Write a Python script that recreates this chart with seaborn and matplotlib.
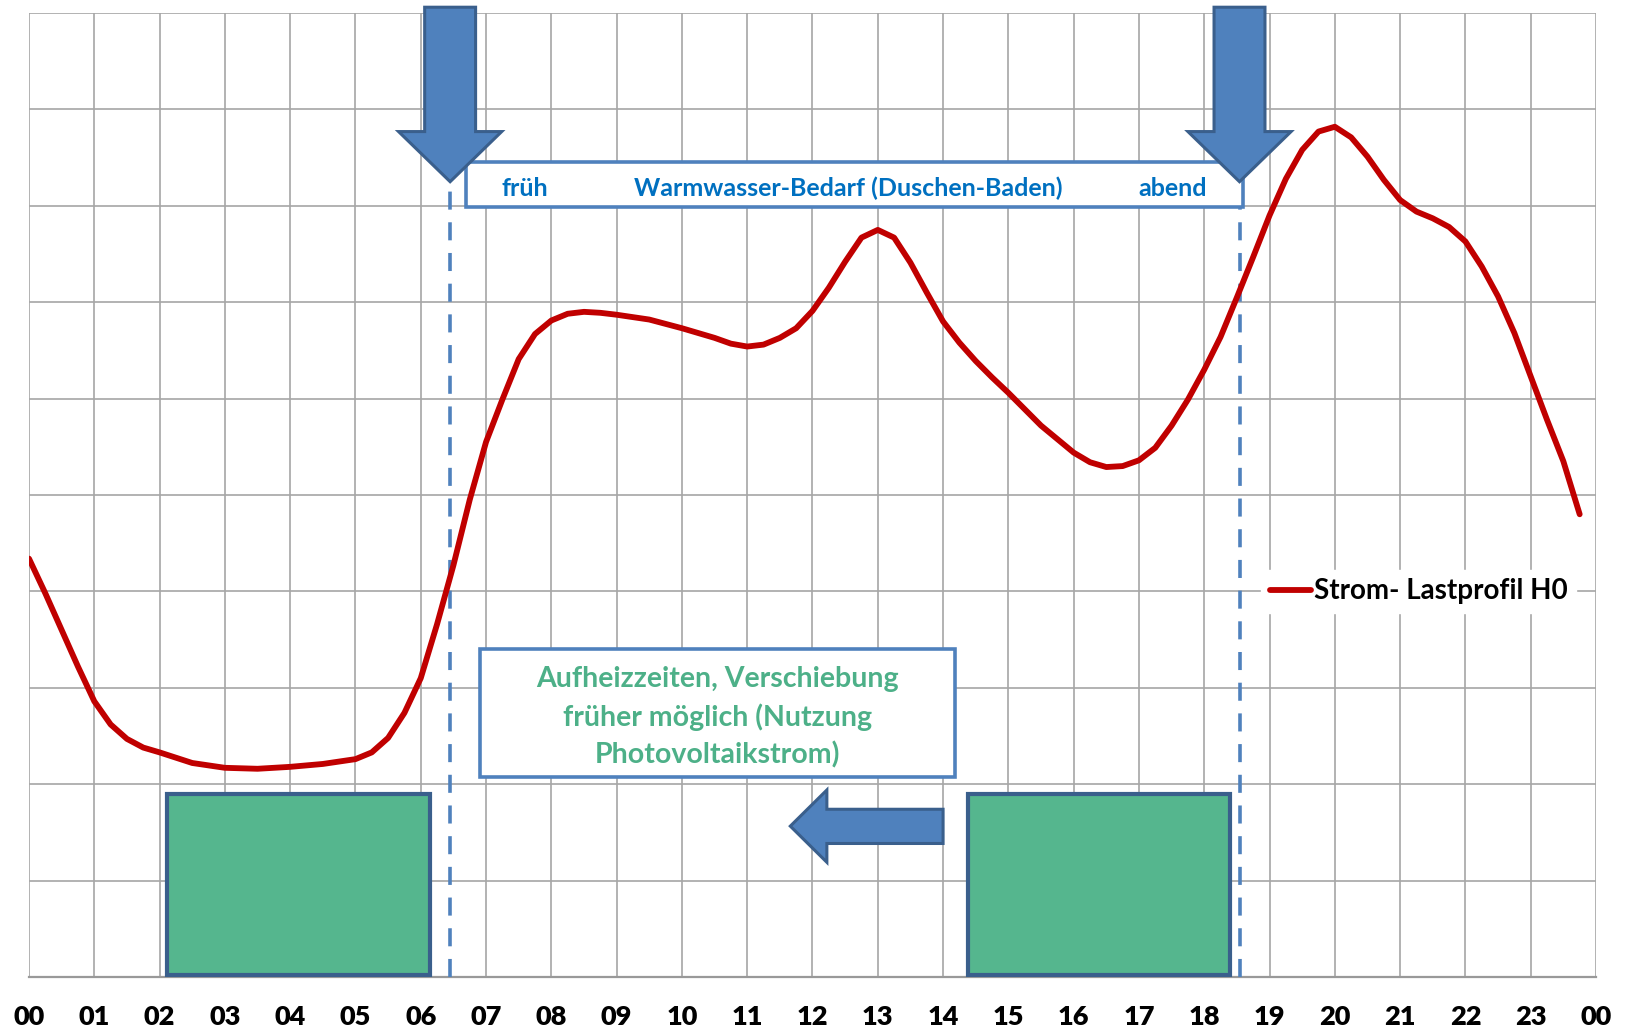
import numpy as np
import pandas as pd
import matplotlib
matplotlib.use("Agg")
import matplotlib.pyplot as plt
from matplotlib.patches import Rectangle, Polygon
import seaborn as sns

# Household load profile H0 (relative load, one grid row = 1 unit)
hours = [0.0, 0.25, 0.5, 0.75, 1.0, 1.25, 1.5, 1.75, 2.0, 2.5, 3.0, 3.5, 4.0,
         4.5, 5.0, 5.25, 5.5, 5.75, 6.0, 6.25, 6.5, 6.75, 7.0, 7.25, 7.5, 7.75,
         8.0, 8.25, 8.5, 8.75, 9.0, 9.5, 10.0, 10.5, 10.75, 11.0, 11.25, 11.5,
         11.75, 12.0, 12.25, 12.5, 12.75, 13.0, 13.25, 13.5, 13.75, 14.0, 14.25,
         14.5, 14.75, 15.0, 15.5, 16.0, 16.25, 16.5, 16.75, 17.0, 17.25, 17.5,
         17.75, 18.0, 18.25, 18.5, 18.75, 19.0, 19.25, 19.5, 19.75, 20.0, 20.25,
         20.5, 20.75, 21.0, 21.25, 21.5, 21.75, 22.0, 22.25, 22.5, 22.75, 23.0,
         23.25, 23.5, 23.75]
load = [4.34, 3.98, 3.60, 3.22, 2.86, 2.62, 2.47, 2.38, 2.33, 2.22, 2.17, 2.16,
        2.18, 2.21, 2.26, 2.33, 2.48, 2.74, 3.10, 3.66, 4.27, 4.95, 5.55, 5.99,
        6.41, 6.67, 6.81, 6.88, 6.90, 6.89, 6.87, 6.82, 6.73, 6.63, 6.57, 6.54,
        6.56, 6.63, 6.73, 6.91, 7.15, 7.42, 7.67, 7.75, 7.67, 7.41, 7.10, 6.80,
        6.58, 6.39, 6.22, 6.06, 5.72, 5.44, 5.34, 5.29, 5.30, 5.36, 5.49, 5.72,
        5.99, 6.30, 6.64, 7.05, 7.47, 7.90, 8.28, 8.58, 8.77, 8.82, 8.71, 8.51,
        8.27, 8.06, 7.94, 7.87, 7.78, 7.63, 7.37, 7.06, 6.68, 6.23, 5.78, 5.35,
        4.80]
hour_labels = ["00", "01", "02", "03", "04", "05", "06", "07", "08", "09", "10",
               "11", "12", "13", "14", "15", "16", "17", "18", "19", "20", "21",
               "22", "23", "00"]
series_name = "Strom- Lastprofil H0"

# Hot-water demand peaks (morning / evening) and heating windows
demand_times = [6.45, 18.54]
heating_windows = [(2.11, 6.14), (14.38, 18.40)]
demand_box = (6.70, 18.59)          # hour span of the demand banner
shift_arrow = (14.0, 11.66)         # tail / tip hour of the shift arrow
info_lines = ["Aufheizzeiten, Verschiebung", "früher möglich (Nutzung",
              "Photovoltaikstrom)"]

BLUE = "#4F81BD"
BLUE_EDGE = "#3A5F8C"
GREEN = "#55B68E"
TEXT_BLUE = "#0070C0"
TEXT_GREEN = "#4DB088"
RED = "#C00000"
GRID = "#A6A6A6"

sns.set_style("white")
plt.rcParams["font.family"] = ["Lato", "DejaVu Sans"]

fig = plt.figure(figsize=(16.37, 10.33), dpi=100)
ax = fig.add_axes([29 / 1637, 1 - 977 / 1033, (1596 - 29) / 1637, (977 - 13) / 1033])

df = pd.DataFrame({"Stunde": hours, "Last": load})
sns.lineplot(data=df, x="Stunde", y="Last", color=RED, linewidth=4.2,
             label=series_name, ax=ax, zorder=5, solid_capstyle="round",
             solid_joinstyle="round")

ax.set_xlim(0, 24)
ax.set_ylim(0, 10)
ax.set_xticks(range(25))
ax.set_xticklabels(hour_labels, fontsize=19.5, fontweight="heavy", color="black")
ax.set_yticks(range(11))
ax.set_yticklabels([])
ax.tick_params(axis="both", length=0)
ax.tick_params(axis="x", pad=20)
ax.set_xlabel("")
ax.set_ylabel("")
ax.grid(True, color=GRID, linewidth=1.2)
ax.set_axisbelow(True)
for side in ["left", "right", "top"]:
    ax.spines[side].set_visible(False)
ax.spines["bottom"].set_color("#999999")
ax.spines["bottom"].set_linewidth(1.6)

# dashed markers for the hot-water demand peaks
for t in demand_times:
    ax.plot([t, t], [0, 8.25], linestyle=(0, (5, 3.5)), color=BLUE,
            linewidth=2.6, zorder=3)

# heating windows (green blocks)
for start, end in heating_windows:
    ax.add_patch(Rectangle((start, 0.02), end - start, 1.88, facecolor=GREEN,
                           edgecolor=BLUE_EDGE, linewidth=3, zorder=4))

# hot-water demand banner
ax.add_patch(Rectangle((demand_box[0], 7.99), demand_box[1] - demand_box[0], 0.46,
                       facecolor="white", edgecolor=BLUE, linewidth=2.6, zorder=6))
banner_font = dict(color=TEXT_BLUE, fontsize=18, fontweight="bold",
                   ha="center", va="center", zorder=7)
ax.text(7.6, 8.18, "früh", **banner_font)
ax.text(12.54, 8.18, "Warmwasser-Bedarf (Duschen-Baden)", **banner_font)
ax.text(17.52, 8.18, "abend", **banner_font)

# block arrows pointing down at the demand times
for t in demand_times:
    shaft_w, head_w = 0.39, 0.79
    arrow = Polygon([(t - shaft_w, 10.06), (t + shaft_w, 10.06),
                     (t + shaft_w, 8.77), (t + head_w, 8.77), (t, 8.25),
                     (t - head_w, 8.77), (t - shaft_w, 8.77)],
                    closed=True, facecolor=BLUE, edgecolor=BLUE_EDGE,
                    linewidth=2.2, zorder=8, clip_on=False)
    ax.add_patch(arrow)

# info box
ax.add_patch(Rectangle((6.90, 2.07), 7.28, 1.33, facecolor="white",
                       edgecolor=BLUE, linewidth=2.6, zorder=6))
for i, line in enumerate(info_lines):
    ax.text(10.54, 3.09 - i * 0.395, line, color=TEXT_GREEN, fontsize=20.5,
            fontweight="bold", ha="center", va="center", zorder=7)

# arrow showing the earlier shift of the heating window
tail, tip = shift_arrow
head_base = tip + 0.56
shift = Polygon([(tail, 1.74), (head_base, 1.74), (head_base, 1.94), (tip, 1.565),
                 (head_base, 1.19), (head_base, 1.385), (tail, 1.385)],
                closed=True, facecolor=BLUE, edgecolor=BLUE_EDGE, linewidth=2.2,
                zorder=8)
ax.add_patch(shift)

leg = ax.legend(loc="center", bbox_to_anchor=(0.887, 0.40), frameon=True,
                fancybox=False, framealpha=1, edgecolor="white",
                handlelength=1.5, handletextpad=0.1, borderpad=0.3,
                labelcolor="black", prop={"weight": "bold", "size": 20})
leg.get_frame().set_facecolor("white")
leg.set_zorder(9)

fig.savefig("out.png", dpi=100, facecolor="white")
